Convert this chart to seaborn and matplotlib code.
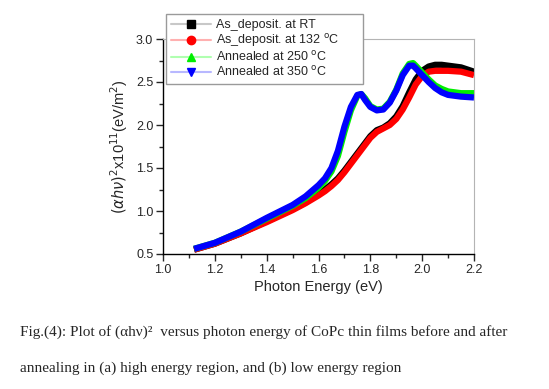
import seaborn as sns
import pandas as pd
import matplotlib.pyplot as plt
from matplotlib.lines import Line2D

# photon energy (eV) and (alpha h nu)^2 x1e11
x_dep = [1.12, 1.2, 1.3, 1.4, 1.5, 1.55, 1.6, 1.625, 1.65, 1.675, 1.7, 1.725, 1.75, 1.775,
         1.8, 1.825, 1.85, 1.875, 1.9, 1.925, 1.95, 1.975, 2.0, 2.025, 2.05, 2.075,
         2.1, 2.15, 2.2]
rt = [0.55, 0.62, 0.74, 0.88, 1.02, 1.10, 1.20, 1.25, 1.31, 1.38, 1.47, 1.57, 1.67, 1.77,
      1.87, 1.94, 1.97, 2.02, 2.10, 2.22, 2.38, 2.53, 2.63, 2.68, 2.70, 2.70,
      2.69, 2.67, 2.62]
t132 = [0.55, 0.62, 0.74, 0.87, 1.01, 1.09, 1.18, 1.23, 1.29, 1.36, 1.45, 1.55, 1.65, 1.75,
        1.85, 1.92, 1.96, 2.00, 2.07, 2.18, 2.32, 2.47, 2.57, 2.62, 2.63, 2.63,
        2.63, 2.62, 2.58]

x_ann = [1.12, 1.2, 1.3, 1.4, 1.5, 1.55, 1.6, 1.625, 1.65, 1.675, 1.7, 1.725, 1.75, 1.765,
         1.78, 1.8, 1.825, 1.85, 1.875, 1.9, 1.925, 1.95, 1.965, 1.975, 2.0, 2.025,
         2.05, 2.075, 2.1, 2.15, 2.2]
t250 = [0.56, 0.63, 0.76, 0.91, 1.06, 1.15, 1.27, 1.35, 1.46, 1.64, 1.92, 2.17, 2.34, 2.36,
        2.31, 2.22, 2.18, 2.19, 2.27, 2.41, 2.60, 2.71, 2.72, 2.69, 2.61, 2.53,
        2.46, 2.42, 2.39, 2.37, 2.37]
t350 = [0.56, 0.63, 0.76, 0.92, 1.07, 1.17, 1.30, 1.38, 1.50, 1.70, 1.98, 2.21, 2.35, 2.36,
        2.29, 2.21, 2.17, 2.18, 2.26, 2.40, 2.58, 2.69, 2.69, 2.66, 2.58, 2.50,
        2.43, 2.38, 2.35, 2.33, 2.32]

labels = ['As_deposit. at RT', r'As_deposit. at 132 $^{\mathrm{o}}$C',
          r'Annealed at 250 $^{\mathrm{o}}$C', r'Annealed at 350 $^{\mathrm{o}}$C']
colors = ['black', '#ff0000', '#00ee00', '#0000ff']
light = ['#c8c8c8', '#ffb0b0', '#b0ffb0', '#b8b8ff']
markers = ['s', 'o', '^', 'v']

df = pd.concat([
    pd.DataFrame({'E': x_dep, 'y': rt, 'sample': labels[0]}),
    pd.DataFrame({'E': x_dep, 'y': t132, 'sample': labels[1]}),
    pd.DataFrame({'E': x_ann, 'y': t250, 'sample': labels[2]}),
    pd.DataFrame({'E': x_ann, 'y': t350, 'sample': labels[3]}),
], ignore_index=True)

sns.set_style('ticks')
plt.rcParams['font.family'] = ['Liberation Sans', 'DejaVu Sans']

fig = plt.figure(figsize=(5.49, 3.89), dpi=100)
ax = fig.add_axes([163 / 549, 1 - 254 / 389, (474 - 163) / 549, (254 - 39) / 389])

sns.lineplot(data=df, x='E', y='y', hue='sample', hue_order=labels,
             palette=dict(zip(labels, colors)), linewidth=4.5, legend=False,
             sort=False, ax=ax)
for ln in ax.lines:
    ln.set_solid_capstyle('butt')

ax.set_xlim(1.0, 2.2)
ax.set_ylim(0.5, 3.0)
ax.set_xticks([1.0, 1.2, 1.4, 1.6, 1.8, 2.0, 2.2])
ax.set_yticks([0.5, 1.0, 1.5, 2.0, 2.5, 3.0])
ax.set_xticks([1.1, 1.3, 1.5, 1.7, 1.9, 2.1], minor=True)
ax.set_yticks([0.75, 1.25, 1.75, 2.25, 2.75], minor=True)
ax.tick_params(which='major', direction='out', length=5, width=1, labelsize=9, pad=2)
ax.tick_params(which='minor', direction='out', length=3, width=1)
ax.set_xlabel('Photon Energy (eV)', fontsize=10.5, labelpad=3)
ax.set_ylabel(r'$(\alpha h\nu)^2$x10$^{11}$(eV/m$^2$)', fontsize=10.5, labelpad=4)
for s in ['top', 'right']:
    ax.spines[s].set_color('#b4b4b4')
for s in ['left', 'bottom']:
    ax.spines[s].set_color('black')
    ax.spines[s].set_linewidth(1)

handles = [Line2D([], [], color=l, lw=1.5, marker=m, markersize=6,
                  markerfacecolor=c, markeredgecolor=c)
           for l, m, c in zip(light, markers, colors)]
leg = fig.legend(handles, labels, loc='upper left',
                 bbox_to_anchor=(166 / 549, 1 - 87 / 389, 197 / 549, 73 / 389),
                 mode='expand', fontsize=9, frameon=True, fancybox=False,
                 framealpha=1, handlelength=3.2, borderpad=0.4,
                 labelspacing=0.08, handletextpad=0.4, borderaxespad=0)
leg.get_frame().set_edgecolor('#9a9a9a')
leg.get_frame().set_linewidth(1)

cap = 'Fig.(4): Plot of (\u03b1h\u03bd)\u00b2  versus photon energy of CoPc thin films before and after'
fig.text(20 / 549, 1 - 332 / 389, cap, fontsize=11, va='center', ha='left',
         family=['Liberation Serif', 'DejaVu Serif'])
fig.text(20 / 549, 1 - 368 / 389,
         'annealing in (a) high energy region, and (b) low energy region',
         fontsize=11, va='center', ha='left', family=['Liberation Serif', 'DejaVu Serif'])

fig.savefig('out.png', dpi=100)
